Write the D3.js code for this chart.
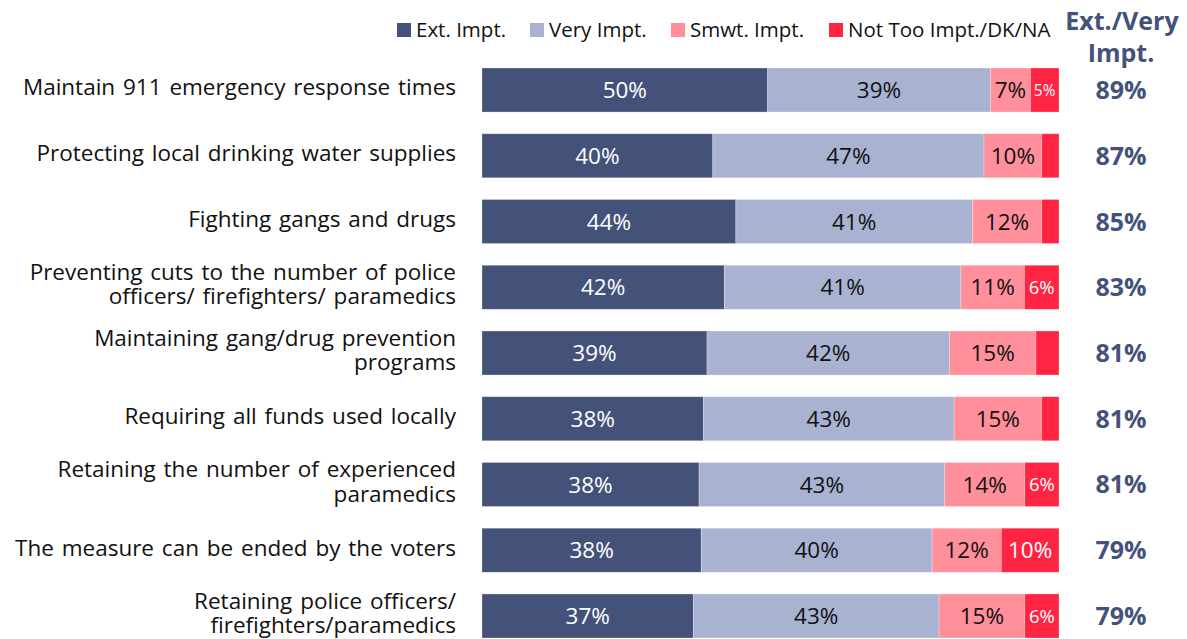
<!DOCTYPE html>
<html>
<head>
<meta charset="utf-8">
<script src="https://cdn.jsdelivr.net/npm/d3@7"></script>
<style>
  body { margin: 0; background: #fff; }
  text { font-family: "Open Sans", Lato, sans-serif; }
</style>
</head>
<body>
<div id="chart"></div>
<script>
// data
const items = [
  ["Maintain 911 emergency response times"],
  ["Protecting local drinking water supplies"],
  ["Fighting gangs and drugs"],
  ["Preventing cuts to the number of police", "officers/ firefighters/ paramedics"],
  ["Maintaining gang/drug prevention", "programs"],
  ["Requiring all funds used locally"],
  ["Retaining the number of experienced", "paramedics"],
  ["The measure can be ended by the voters"],
  ["Retaining police officers/", "firefighters/paramedics"]
];
const series = ["Ext. Impt.", "Very Impt.", "Smwt. Impt.", "Not Too Impt./DK/NA"];
const extImpt    = [50, 40, 44, 42, 39, 38, 38, 38, 37];
const veryImpt   = [39, 47, 41, 41, 42, 43, 43, 40, 43];
const smwtImpt   = [7, 10, 12, 11, 15, 15, 14, 12, 15];
const notTooImpt = [5, 3, 3, 6, 4, 3, 6, 10, 6];
const extVery    = [89, 87, 85, 83, 81, 81, 81, 79, 79];
// which segments carry a printed label
const showLabel = [
  [true, true, true, true],
  [true, true, true, false],
  [true, true, true, false],
  [true, true, true, true],
  [true, true, true, false],
  [true, true, true, false],
  [true, true, true, true],
  [true, true, true, true],
  [true, true, true, true]
];

const colors = ["#44527a", "#a9b2d1", "#ff8f9b", "#ff2442"];
const labelColors = ["#fff", "#111", "#111", "#fff"];
const navy = "#44527a";

const width = 1187, height = 639;

const svg = d3.select("#chart")
  .append("svg")
    .attr("width", width)
    .attr("height", height);

const data = items.map((d, i) => ({
  idx: i,
  [series[0]]: extImpt[i],
  [series[1]]: veryImpt[i],
  [series[2]]: smwtImpt[i],
  [series[3]]: notTooImpt[i]
}));

const stacked = d3.stack()
  .keys(series)
  .offset(d3.stackOffsetExpand)(data);

const x = d3.scaleLinear()
  .domain([0, 1])
  .range([482, 1059]);

const y = d3.scaleBand()
  .domain(d3.range(items.length))
  .range([46.3, 659.7])
  .padding(0.33);

// bars
const layer = svg.append("g")
  .selectAll("g")
  .data(stacked)
  .join("g")
    .attr("fill", (d, i) => colors[i]);

layer.selectAll("rect")
  .data(d => d)
  .join("rect")
    .attr("x", d => x(d[0]))
    .attr("y", (d, i) => y(i))
    .attr("width", d => x(d[1]) - x(d[0]))
    .attr("height", y.bandwidth())
    .attr("stroke", "#fff")
    .attr("stroke-opacity", 0.35)
    .attr("stroke-width", 0.8);

// segment labels
const rawSeries = [extImpt, veryImpt, smwtImpt, notTooImpt];
stacked.forEach((s, si) => {
  const raw = rawSeries[si];
  svg.append("g")
    .selectAll("text")
    .data(s.filter((d, i) => showLabel[i][si]).map(d => ({d, i: d.data.idx})))
    .join("text")
      .attr("x", o => (x(o.d[0]) + x(o.d[1])) / 2)
      .attr("y", o => y(o.i) + y.bandwidth() / 2)
      .attr("dy", "0.36em")
      .attr("text-anchor", "middle")
      .attr("fill", labelColors[si])
      .style("font-size", o => {
        const v = raw[o.i];
        if (si === 3 && v < 6) return "15.5px";
        if (si === 3 && v < 10) return "18.5px";
        return "22.5px";
      })
      .text(o => raw[o.i] + "%");
});

// category labels (right aligned, some on two lines)
const cat = svg.append("g")
  .selectAll("text")
  .data(items)
  .join("text")
    .attr("x", 456)
    .attr("y", (d, i) => y(i) + y.bandwidth() / 2)
    .attr("text-anchor", "end")
    .attr("fill", "#111")
    .style("font-size", "22.5px")
    .style("word-spacing", "2px");

cat.selectAll("tspan")
  .data(d => d.map((line, j) => ({line, j, n: d.length})))
  .join("tspan")
    .attr("x", 456)
    .attr("dy", o => o.j === 0 ? (o.n === 1 ? "0.24em" : "-0.32em") : "1.08em")
    .text(o => o.line);

// Ext./Very column
svg.append("g")
  .selectAll("text")
  .data(extVery)
  .join("text")
    .attr("x", 1121)
    .attr("y", (d, i) => y(i) + y.bandwidth() / 2)
    .attr("dy", "0.36em")
    .attr("text-anchor", "middle")
    .attr("fill", navy)
    .style("font-size", "25px")
    .style("font-weight", "bold")
    .text(d => d + "%");

svg.append("text")
  .attr("x", 1122)
  .attr("y", 30)
  .attr("text-anchor", "middle")
  .attr("fill", navy)
  .style("font-size", "25px")
  .style("font-weight", "bold")
  .text("Ext./Very");

svg.append("text")
  .attr("x", 1121)
  .attr("y", 62)
  .attr("text-anchor", "middle")
  .attr("fill", navy)
  .style("font-size", "25px")
  .style("font-weight", "bold")
  .text("Impt.");

// legend
const legendX = [397, 530, 671, 829];
const legend = svg.append("g")
  .selectAll("g")
  .data(series)
  .join("g")
    .attr("transform", (d, i) => `translate(${legendX[i]}, 23)`);

legend.append("rect")
  .attr("width", 14)
  .attr("height", 14)
  .attr("fill", (d, i) => colors[i]);

legend.append("text")
  .attr("x", 19)
  .attr("y", 7)
  .attr("dy", "0.36em")
  .attr("fill", "#111")
  .style("font-size", "20.5px")
  .text(d => d);
</script>
</body>
</html>
